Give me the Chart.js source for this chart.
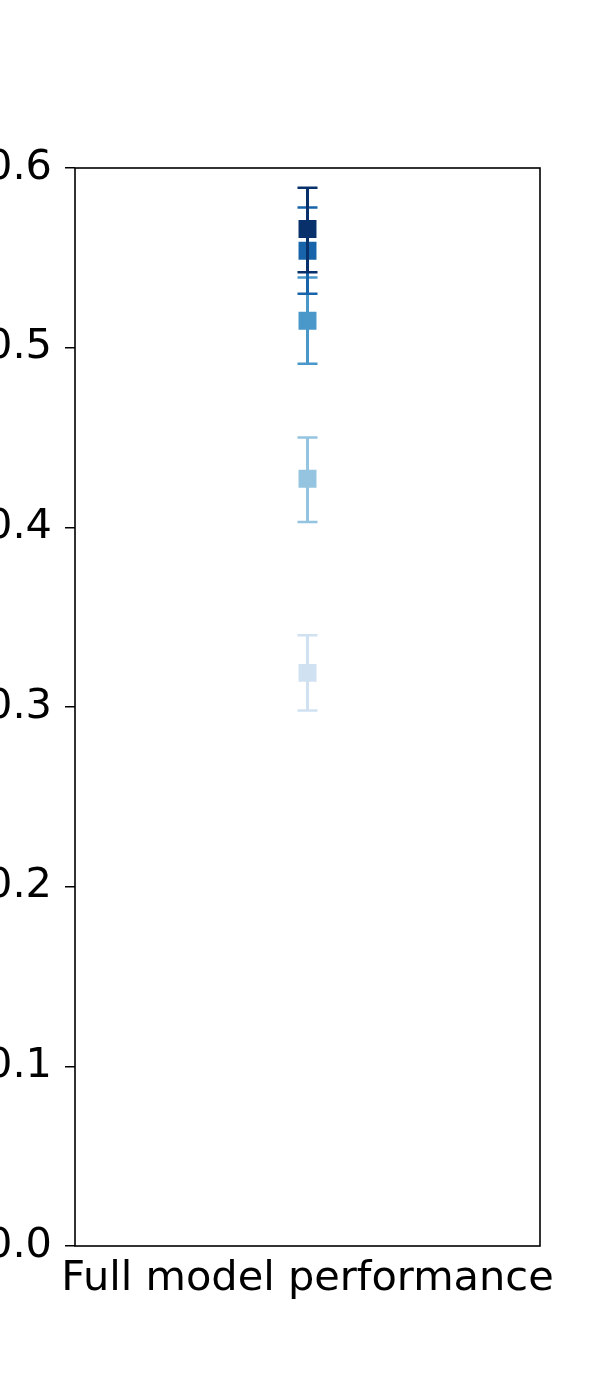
<!DOCTYPE html>
<html>
<head>
<meta charset="utf-8">
<style>
html,body{margin:0;padding:0;background:#fff;}
canvas{display:block;}
</style>
<script src="https://cdn.jsdelivr.net/npm/chart.js@4/dist/chart.umd.min.js"></script>
</head>
<body>
<canvas id="c" width="600" height="1400"></canvas>
<script>
const categories = ["Full model performance"];
const seriesMeans = [0.319, 0.427, 0.515, 0.554, 0.566];
const seriesLow   = [0.298, 0.403, 0.491, 0.530, 0.542];
const seriesHigh  = [0.340, 0.450, 0.539, 0.578, 0.589];
const seriesColors = ["#d0e1f2", "#94c4df", "#4a98c9", "#1764ab", "#08306b"];
const yTicks = [0.0, 0.1, 0.2, 0.3, 0.4, 0.5, 0.6];

const FONT = "'DejaVu Sans', sans-serif";

const datasets = seriesMeans.map((m, i) => ({
  label: "s" + i,
  data: [m],
  errLow: seriesLow[i],
  errHigh: seriesHigh[i],
  showLine: false,
  pointStyle: 'rect',
  pointRadius: 12.7,
  pointBorderWidth: 0,
  pointBackgroundColor: seriesColors[i],
  pointBorderColor: seriesColors[i],
  backgroundColor: seriesColors[i],
  borderColor: seriesColors[i],
  order: seriesMeans.length - 1 - i
}));

const errorBars = {
  id: 'errorBars',
  beforeDatasetDraw(chart, args) {
    const ds = chart.data.datasets[args.index];
    const y = chart.scales.y;
    const ctx = chart.ctx;
    args.meta.data.forEach(pt => {
      const x = pt.x;
      const yl = y.getPixelForValue(ds.errLow);
      const yh = y.getPixelForValue(ds.errHigh);
      ctx.save();
      ctx.strokeStyle = ds.borderColor;
      ctx.lineWidth = 3;
      ctx.beginPath();
      ctx.moveTo(x, yl); ctx.lineTo(x, yh);
      ctx.stroke();
      ctx.lineWidth = 2.5;
      ctx.beginPath();
      ctx.moveTo(x - 10, yl); ctx.lineTo(x + 10, yl);
      ctx.moveTo(x - 10, yh); ctx.lineTo(x + 10, yh);
      ctx.stroke();
      ctx.restore();
    });
  }
};

const frame = {
  id: 'frame',
  afterDraw(chart) {
    const a = chart.chartArea;
    const ctx = chart.ctx;
    ctx.save();
    ctx.strokeStyle = '#000';
    ctx.lineWidth = 1.6;
    ctx.strokeRect(a.left, a.top, a.right - a.left, a.bottom - a.top);
    ctx.restore();
  }
};

new Chart(document.getElementById('c'), {
  type: 'line',
  data: { labels: categories, datasets },
  plugins: [errorBars, frame],
  options: {
    responsive: false,
    animation: false,
    devicePixelRatio: 1,
    layout: { padding: { top: 168, right: 60, left: 0, bottom: 0 } },
    plugins: { legend: { display: false }, tooltip: { enabled: false } },
    scales: {
      x: {
        type: 'category',
        offset: true,
        grid: { display: false, drawTicks: false },
        border: { display: false },
        ticks: { color: '#000', font: { family: FONT, size: 41.5 }, padding: 8, maxRotation: 0 },
        afterFit(s) { s.height = 154; }
      },
      y: {
        min: 0, max: 0.6,
        afterBuildTicks(s) { s.ticks = yTicks.map(v => ({ value: v })); },
        grid: { drawOnChartArea: false, drawTicks: true, tickLength: 10, color: '#000', lineWidth: 1.5 },
        border: { display: false },
        ticks: { color: '#000', font: { family: FONT, size: 41.5 }, padding: 13,
                 callback: v => Number(v).toFixed(1) },
        afterFit(s) { s.width = 75; }
      }
    }
  }
});
</script>
</body>
</html>
